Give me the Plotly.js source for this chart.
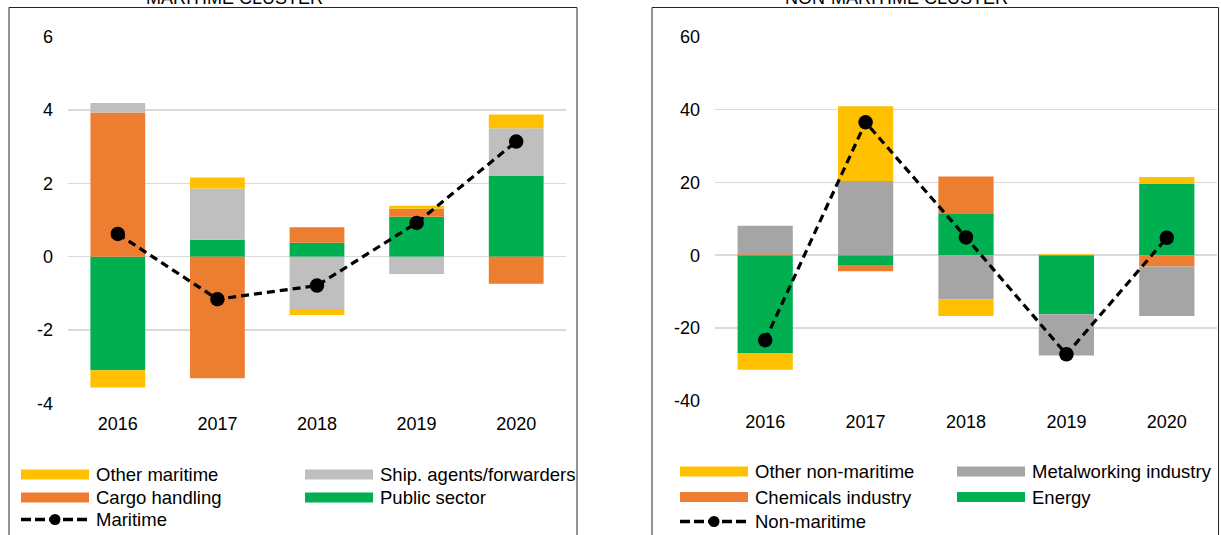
<!DOCTYPE html>
<html>
<head>
<meta charset="utf-8">
<script src="https://cdn.plot.ly/plotly-3.0.1.min.js"></script>
<style>
  html, body { margin: 0; padding: 0; background: #ffffff; }
  #chart { width: 1221px; height: 535px; }
</style>
</head>
<body>
<div id="chart"></div>
<script>
// ---- Data ----
const years = ['2016', '2017', '2018', '2019', '2020'];

// Maritime cluster (left)
const publicSector   = [-3.10, 0.46, 0.38, 1.09, 2.20];
const cargoHandling  = [3.93, -3.32, 0.42, 0.22, -0.74];
const shipAgents     = [0.26, 1.40, -1.43, -0.47, 1.30];
const otherMaritime  = [-0.47, 0.30, -0.16, 0.08, 0.38];
const maritimeTotal  = [0.62, -1.16, -0.79, 0.92, 3.14];

// Non-maritime cluster (right)
const energy         = [-26.8, -2.7, 11.3, -16.2, 19.6];
const chemicals      = [0.3, -1.7, 10.3, 0.0, -3.1];
const metalworking   = [7.8, 20.4, -12.1, -11.3, -13.6];
const otherNonMar    = [-4.6, 20.5, -4.6, 0.3, 1.9];
const nonMarTotal    = [-23.3, 36.5, 4.9, -27.2, 4.8];

const leftTicks  = [-4, -2, 0, 2, 4, 6];
const rightTicks = [-40, -20, 0, 20, 40, 60];

const leftLegendLabels  = ['Other maritime', 'Ship. agents/forwarders', 'Cargo handling', 'Public sector', 'Maritime'];
const rightLegendLabels = ['Other non-maritime', 'Metalworking industry', 'Chemicals industry', 'Energy', 'Non-maritime'];

// ---- Styles ----
const C = {
  yellow: '#FFC000', orange: '#ED7D31', grayL: '#BFBFBF', grayR: '#A5A5A5', green: '#00B050'
};
const W = 1221, H = 535;
const px = v => v / W;
const py = v => (H - v) / H;
const FONT = 'Liberation Sans, Arial, sans-serif';
const FS = 18;
const LFS = 18.5;

function bar(name, y, color, xa, ya) {
  return { type: 'bar', name, x: years, y, xaxis: xa, yaxis: ya,
           marker: { color, line: { width: 0 } }, showlegend: false };
}
function totalLine(name, y, xa, ya) {
  return { type: 'scatter', mode: 'lines+markers', name, x: years, y, xaxis: xa, yaxis: ya,
           line: { color: '#000000', width: 3.2, dash: '8px,5px' },
           marker: { color: '#000000', size: 14.5 }, showlegend: false };
}

const data = [
  // left bars (stack order: green, orange, gray, yellow)
  bar('Public sector', publicSector, C.green, 'x', 'y'),
  bar('Cargo handling', cargoHandling, C.orange, 'x', 'y'),
  bar('Ship. agents/forwarders', shipAgents, C.grayL, 'x', 'y'),
  bar('Other maritime', otherMaritime, C.yellow, 'x', 'y'),
  // right bars
  bar('Energy', energy, C.green, 'x2', 'y2'),
  bar('Chemicals industry', chemicals, C.orange, 'x2', 'y2'),
  bar('Metalworking industry', metalworking, C.grayR, 'x2', 'y2'),
  bar('Other non-maritime', otherNonMar, C.yellow, 'x2', 'y2'),
  // totals
  totalLine('Maritime', maritimeTotal, 'x', 'y'),
  totalLine('Non-maritime', nonMarTotal, 'x2', 'y2')
];

function xaxis(domain, anchor) {
  return { domain, anchor, type: 'category', showgrid: false, zeroline: false, showline: false,
           ticks: '', tickfont: { size: FS, color: '#000' }, ticklabelstandoff: 8, fixedrange: true };
}
function yaxis(domain, anchor, range, ticks) {
  return { domain, anchor, range, tickvals: ticks, ticktext: ticks.map(String), showgrid: true,
           gridcolor: '#D9D9D9', gridwidth: 1.6, zeroline: false, showline: false, ticks: '',
           tickfont: { size: FS, color: '#000' }, ticklabelstandoff: 14, fixedrange: true };
}

// ---- Panel frames, titles and manual legends (shapes + text) ----
const shapes = [
  { type: 'rect', xref: 'paper', yref: 'paper', x0: px(9), x1: px(577), y0: -0.2, y1: py(7.5),
    line: { color: '#262626', width: 1 }, fillcolor: 'rgba(0,0,0,0)', layer: 'below' },
  { type: 'rect', xref: 'paper', yref: 'paper', x0: px(652), x1: px(1218.5), y0: -0.2, y1: py(7.5),
    line: { color: '#262626', width: 1 }, fillcolor: 'rgba(0,0,0,0)', layer: 'below' }
];
const annotations = [
  { text: 'MARITIME CLUSTER', xref: 'paper', yref: 'paper', x: px(234), y: py(-2), xanchor: 'center',
    yanchor: 'middle', showarrow: false, font: { size: FS, color: '#000' } },
  { text: 'NON-MARITIME CLUSTER', xref: 'paper', yref: 'paper', x: px(896), y: py(-2), xanchor: 'center',
    yanchor: 'middle', showarrow: false, font: { size: FS, color: '#000' } }
];

function addLegend(labels, colors, col1x, col2x, rows) {
  const cols = [col1x, col2x, col1x, col2x, col1x];
  const rowY = [rows[0], rows[0], rows[1], rows[1], rows[2]];
  labels.forEach((lab, i) => {
    const x0 = cols[i], yc = rowY[i];
    if (i < 4) {
      shapes.push({ type: 'rect', xref: 'paper', yref: 'paper', x0: px(x0), x1: px(x0 + 68),
        y0: py(yc + 5), y1: py(yc - 5), line: { width: 0 }, fillcolor: colors[i] });
    } else {
      shapes.push({ type: 'line', xref: 'paper', yref: 'paper', x0: px(x0), x1: px(x0 + 68),
        y0: py(yc), y1: py(yc), line: { color: '#000', width: 3.4, dash: '10px,4px' } });
      shapes.push({ type: 'circle', xref: 'paper', yref: 'paper', x0: px(x0 + 28.5), x1: px(x0 + 39.5),
        y0: py(yc + 5.5), y1: py(yc - 5.5), line: { width: 0 }, fillcolor: '#000' });
    }
    annotations.push({ text: lab, xref: 'paper', yref: 'paper', x: px(x0 + 73), y: py(yc),
      xanchor: 'left', yanchor: 'middle', showarrow: false, font: { size: LFS, color: '#000' } });
  });
}
addLegend(leftLegendLabels, [C.yellow, C.grayL, C.orange, C.green], 21, 305, [474.5, 497.5, 519.5]);
addLegend(rightLegendLabels, [C.yellow, C.grayR, C.orange, C.green], 680, 957, [471.5, 497, 521.5]);

const layout = {
  width: W, height: H,
  margin: { l: 0, r: 0, t: 0, b: 0 },
  paper_bgcolor: '#ffffff', plot_bgcolor: '#ffffff',
  font: { family: FONT, size: FS, color: '#000' },
  barmode: 'relative', bargap: 0.45,
  showlegend: false,
  xaxis: xaxis([px(68), px(566)], 'y'),
  yaxis: yaxis([py(403.3), py(36.7)], 'x', [-4, 6], leftTicks),
  xaxis2: xaxis([px(715), px(1217)], 'y2'),
  yaxis2: yaxis([py(401), py(36.7)], 'x2', [-40, 60], rightTicks),
  shapes, annotations
};

Plotly.newPlot('chart', data, layout, { displayModeBar: false, staticPlot: true });
</script>
</body>
</html>
